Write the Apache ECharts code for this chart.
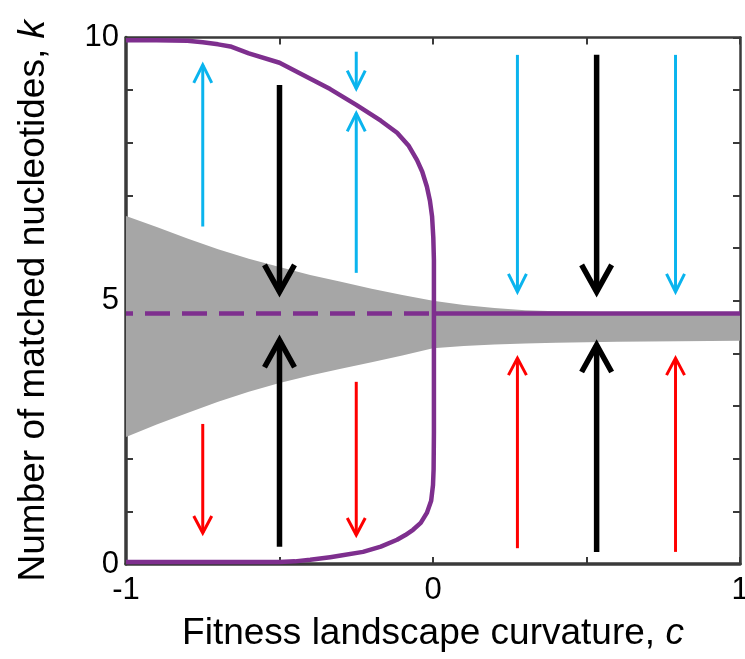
<!DOCTYPE html>
<html>
<head>
<meta charset="utf-8">
<script src="https://cdn.jsdelivr.net/npm/echarts@6/dist/echarts.min.js"></script>
<style>
  html, body { margin: 0; padding: 0; background: #fff; }
  #chart { width: 745px; height: 659px; }
</style>
</head>
<body>
<div id="chart"></div>
<script>
// Grey band: spread of k around the steady state, per curvature c
const bandC     = [-1, -0.9, -0.8, -0.7, -0.6, -0.5, -0.4, -0.3, -0.2, -0.1, 0, 0.1, 0.2, 0.3, 0.4, 0.5, 0.6, 0.8, 1];
const bandUpper = [6.61, 6.40, 6.18, 5.98, 5.80, 5.64, 5.49, 5.36, 5.23, 5.11, 5.00, 4.92, 4.86, 4.82, 4.80, 4.79, 4.78, 4.78, 4.78];
const bandLower = [2.41, 2.65, 2.87, 3.08, 3.27, 3.44, 3.58, 3.71, 3.83, 3.96, 4.10, 4.14, 4.17, 4.19, 4.20, 4.21, 4.22, 4.23, 4.24];

// Boundary of the basins of attraction (upper branch, drop near c = 0, lower branch)
const curveC = [-1, -0.9, -0.8, -0.75, -0.7, -0.66, -0.6, -0.5, -0.42, -0.335, -0.25, -0.17, -0.117, -0.08, -0.052, -0.035, -0.02, -0.01, -0.003, 0.001, 0.003,
                0.003, 0.002, 0, -0.006, -0.02, -0.04, -0.065, -0.09, -0.117, -0.17, -0.228, -0.3, -0.335, -0.4, -0.45, -0.5, -1];
const curveK = [9.95, 9.95, 9.94, 9.91, 9.87, 9.83, 9.70, 9.52, 9.28, 9.02, 8.72, 8.42, 8.19, 7.95, 7.67, 7.45, 7.17, 6.90, 6.60, 6.20, 5.77,
                2.50, 1.80, 1.50, 1.20, 0.97, 0.78, 0.65, 0.55, 0.46, 0.33, 0.23, 0.16, 0.13, 0.08, 0.05, 0.04, 0.04];

// Steady state k*: unstable (dashed) for c < 0, stable (solid) for c > 0
const steadyK = 4.76;
const unstableC = [-1, 0];
const stableC = [0, 1];

// Flow arrows: [c, k start, k tip, kind]
const arrows = [
  [-0.75, 6.41, 9.48, 'blue'],
  [-0.75, 2.66, 0.59, 'red'],
  [-0.50, 9.10, 5.17, 'black'],
  [-0.50, 0.33, 4.25, 'black'],
  [-0.25, 9.73, 9.03, 'blue'],
  [-0.25, 5.53, 8.56, 'blue'],
  [-0.25, 3.46, 0.55, 'red'],
  [0.275, 9.67, 5.17, 'blue'],
  [0.275, 0.30, 3.91, 'red'],
  [0.533, 9.67, 5.17, 'black'],
  [0.533, 0.23, 4.16, 'black'],
  [0.79, 9.67, 5.17, 'blue'],
  [0.79, 0.23, 3.91, 'red']
];

const xTickLabels = ['-1', '0', '1'];
const yTickLabels = ['0', '5', '10'];

const PURPLE = '#7E2F8E';
const GREY = '#A6A6A6';
const SPINE = '#3a3a3a';
const FONT = '"Liberation Sans", Arial, Helvetica, sans-serif';
const arrowStyle = {
  blue:  { color: '#0AB4EE', width: 3,   half: 9,  len: 18 },
  red:   { color: '#FF0000', width: 3,   half: 9,  len: 17 },
  black: { color: '#000000', width: 5.5, half: 15, len: 27 }
};

function fmtTick(list) {
  return function (v) {
    const s = String(Math.round(v * 100) / 100);
    return list.indexOf(s) >= 0 ? s : '';
  };
}

const chart = echarts.init(document.getElementById('chart'), null, { renderer: 'canvas' });

const axisCommon = {
  type: 'value',
  axisLine: { show: true, onZero: false, lineStyle: { color: SPINE, width: 3.5 } },
  axisTick: { show: true, inside: true, length: 7, lineStyle: { color: SPINE, width: 2 } },
  splitLine: { show: false }
};

chart.setOption({
  animation: false,
  backgroundColor: '#ffffff',
  grid: { left: 126, right: 5, top: 37.5, bottom: 95, containLabel: false, outerBoundsMode: 'none' },
  xAxis: [
    Object.assign({}, axisCommon, {
      min: -1, max: 1, interval: 0.5, position: 'bottom',
      axisLabel: { formatter: fmtTick(xTickLabels), color: '#000', fontFamily: FONT, fontSize: 31, margin: 11 },
      name: 'Fitness landscape curvature, {i|c}',
      nameLocation: 'middle', nameGap: 51,
      nameTextStyle: {
        color: '#000', fontFamily: FONT, fontSize: 37,
        rich: { i: { fontStyle: 'italic', fontFamily: FONT, fontSize: 37, color: '#000' } }
      }
    }),
    Object.assign({}, axisCommon, {
      min: -1, max: 1, interval: 0.5, position: 'top',
      axisLine: { show: true, onZero: false, lineStyle: { color: SPINE, width: 2.5 } },
      axisLabel: { show: false }
    })
  ],
  yAxis: [
    Object.assign({}, axisCommon, {
      min: 0, max: 10, interval: 1, position: 'left',
      axisLabel: { formatter: fmtTick(yTickLabels), color: '#000', fontFamily: FONT, fontSize: 31, margin: 7 },
      name: 'Number of matched nucleotides, {i|k}',
      nameLocation: 'middle', nameGap: 74, nameRotate: 90,
      nameTextStyle: {
        color: '#000', fontFamily: FONT, fontSize: 37,
        rich: { i: { fontStyle: 'italic', fontFamily: FONT, fontSize: 37, color: '#000' } }
      }
    }),
    Object.assign({}, axisCommon, {
      min: 0, max: 10, interval: 1, position: 'right',
      axisLine: { show: true, onZero: false, lineStyle: { color: SPINE, width: 2.5 } },
      axisLabel: { show: false }
    })
  ],
  series: [
    {
      // band drawn as one polygon: upper edge left→right, lower edge right→left
      type: 'custom', z: 1, silent: true,
      data: bandC.map((c, i) => [c, bandLower[i], bandUpper[i]]),
      renderItem: function (params, api) {
        if (params.dataIndex !== 0) return { type: 'group', children: [] };
        const pts = [];
        for (let i = 0; i < bandC.length; i++) pts.push(api.coord([bandC[i], bandUpper[i]]));
        for (let i = bandC.length - 1; i >= 0; i--) pts.push(api.coord([bandC[i], bandLower[i]]));
        return { type: 'polygon', shape: { points: pts }, style: { fill: GREY, stroke: null } };
      }
    },
    {
      type: 'line', symbol: 'none', silent: true, z: 3,
      lineStyle: { color: PURPLE, width: 4.5, type: [25, 12], dashOffset: 18 },
      data: unstableC.map(c => [c, steadyK])
    },
    {
      type: 'line', symbol: 'none', silent: true, z: 3,
      lineStyle: { color: PURPLE, width: 4.5 },
      data: stableC.map(c => [c, steadyK])
    },
    {
      type: 'custom', z: 4, silent: true,
      data: arrows,
      renderItem: function (params, api) {
        const kind = arrows[params.dataIndex][3];
        const st = arrowStyle[kind];
        const p0 = api.coord([api.value(0), api.value(1)]);
        const p1 = api.coord([api.value(0), api.value(2)]);
        const dir = p1[1] < p0[1] ? -1 : 1; // screen direction of travel
        const style = { stroke: st.color, lineWidth: st.width, fill: null, lineCap: 'butt', lineJoin: 'miter' };
        return {
          type: 'group',
          children: [
            { type: 'line', shape: { x1: p0[0], y1: p0[1], x2: p1[0], y2: p1[1] }, style: style },
            { type: 'polyline', shape: { points: [[p1[0] - st.half, p1[1] - dir * st.len], [p1[0], p1[1]], [p1[0] + st.half, p1[1] - dir * st.len]] }, style: style }
          ]
        };
      }
    },
    {
      type: 'line', symbol: 'none', silent: true, z: 5,
      lineStyle: { color: PURPLE, width: 4.5, join: 'round' },
      data: curveC.map((c, i) => [c, curveK[i]])
    }
  ]
});
</script>
</body>
</html>
